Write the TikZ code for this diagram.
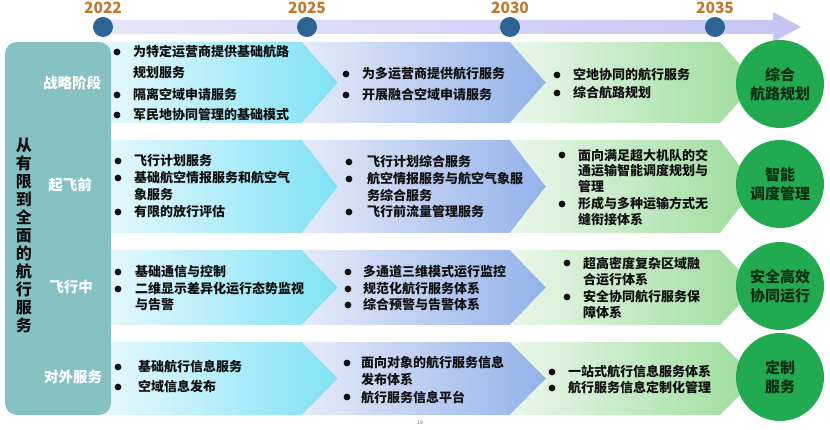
\documentclass[tikz,border=0pt]{standalone}
\usepackage{fontspec}
\setmainfont{Noto Sans CJK SC}
\definecolor{panel}{HTML}{86C2C4}
\definecolor{cyanR}{HTML}{7FE2F5}
\definecolor{cyanL}{HTML}{E6F8FC}
\definecolor{bluL}{HTML}{E6EAF8}
\definecolor{bluR}{HTML}{92B2EA}
\definecolor{grnL}{HTML}{EAF7EA}
\definecolor{grnR}{HTML}{9CDC9C}
\definecolor{goalc}{HTML}{22AA50}
\definecolor{goalt}{HTML}{0E2E16}
\definecolor{dotc}{HTML}{2C6496}
\definecolor{yearc}{HTML}{C4782C}
\definecolor{bandL}{HTML}{E6E6F8}
\definecolor{bandR}{HTML}{C4C4F4}
\definecolor{ink}{HTML}{111111}
\newcommand\Ln[4]{\node[txt] (#1) at (#2,#3) {#4};}
\newcommand\Bu[2]{\fill[ink] (#1,#2) circle (3.4);}
\newcommand\Rowsegs[2]{%
  \shade[left color=cyanL,right color=cyanR] (105,#1) -- (302,#1) -- (338,{(#1+#2)/2}) -- (302,#2) -- (105,#2) -- cycle;
  \shade[left color=bluL,right color=bluR] (302,#1) -- (510,#1) -- (546,{(#1+#2)/2}) -- (510,#2) -- (302,#2) -- (338,{(#1+#2)/2}) -- cycle;
  \shade[left color=grnL,right color=grnR] (510,#1) -- (720,#1) -- (756,{(#1+#2)/2}) -- (720,#2) -- (510,#2) -- (546,{(#1+#2)/2}) -- cycle;
}
\begin{document}
\begin{tikzpicture}[x=1pt,y=-1pt,
  txt/.style={anchor=west,inner sep=0pt,font=\fontsize{13}{15}\selectfont\bfseries,text=ink},
  goal/.style={circle,fill=goalc,minimum size=88pt,inner sep=0pt,align=center,text=goalt,
    font=\fontsize{15}{19}\selectfont\bfseries},
  rowlab/.style={inner sep=0pt,text=white,font=\fontsize{14.5}{17}\selectfont\bfseries},
  year/.style={inner sep=0pt,text=yearc,font=\fontsize{15.5}{17}\selectfont\bfseries},
  tdot/.style={circle,fill=dotc,minimum size=20pt,inner sep=0pt}]
\useasboundingbox[fill=white] (0,0) rectangle (830,430);

% timeline
\shade[left color=bandL,right color=bandR] (98,20) -- (773,20) -- (773,12) -- (801,27) -- (773,42) -- (773,34) -- (98,34) -- cycle;
\node[tdot] (d1) at (103,27) {};
\node[tdot] (d2) at (307,27) {};
\node[tdot] (d3) at (510,27) {};
\node[tdot] (d4) at (715,27) {};
\node[year] (y1) at (103,8) {2022};
\node[year] (y2) at (307,8) {2025};
\node[year] (y3) at (510,8) {2030};
\node[year] (y4) at (715,8) {2035};

% row bands
\Rowsegs{42}{123}
\Rowsegs{140}{233}
\Rowsegs{250}{325}
\Rowsegs{342}{415}

% left panel
\fill[panel,rounded corners=12pt] (5,42) rectangle (111,415);
\node[inner sep=0pt,text=ink,align=center,font=\fontsize{16}{18}\selectfont\bfseries] (main) at (24,235)
  {从\\有\\限\\到\\全\\面\\的\\航\\行\\服\\务};
\node[rowlab] (l1) at (72,83) {战略阶段};
\node[rowlab] (l2) at (70,185) {起飞前};
\node[rowlab] (l3) at (71,287) {飞行中};
\node[rowlab] (l4) at (73,377) {对外服务};

% goals
\node[goal] (g1) at (780,84) {综合\\航路规划};
\node[goal] (g2) at (780,184) {智能\\调度管理};
\node[goal] (g3) at (780,286) {安全高效\\协同运行};
\node[goal] (g4) at (780,377) {定制\\服务};

% row 1
\Bu{117}{52}\Ln{a1}{133}{52}{为特定运营商提供基础航路}
\Ln{a2}{133}{73}{规划服务}
\Bu{117}{95}\Ln{a3}{133}{95}{隔离空域申请服务}
\Bu{117}{115}\Ln{a4}{133}{115}{军民地协同管理的基础模式}
\Bu{346}{74}\Ln{b1}{362}{74}{为多运营商提供航行服务}
\Bu{346}{95}\Ln{b2}{362}{95}{开展融合空域申请服务}
\Bu{557}{75}\Ln{c1}{573}{75}{空地协同的航行服务}
\Bu{557}{93}\Ln{c2}{573}{93}{综合航路规划}

% row 2
\Bu{118}{161}\Ln{a5}{134}{161}{飞行计划服务}
\Bu{118}{178}\Ln{a6}{134}{178}{基础航空情报服务和航空气}
\Ln{a7}{134}{195}{象服务}
\Bu{118}{212}\Ln{a8}{134}{212}{有限的放行评估}
\Bu{349}{162}\Ln{b3}{367}{162}{飞行计划综合服务}
\Bu{349}{179}\Ln{b4}{367}{179}{航空情报服务与航空气象服}
\Ln{b5}{367}{196}{务综合服务}
\Bu{349}{212}\Ln{b6}{367}{212}{飞行前流量管理服务}
\Bu{562}{155}\Ln{c3}{578}{155}{面向满足超大机队的交}
\Ln{c4}{578}{171}{通运输智能调度规划与}
\Ln{c5}{578}{187}{管理}
\Bu{562}{204}\Ln{c6}{578}{204}{形成与多种运输方式无}
\Ln{c7}{578}{220}{缝衔接体系}

% row 3
\Bu{118}{272}\Ln{a9}{135}{272}{基础通信与控制}
\Bu{118}{289}\Ln{a10}{135}{289}{二维显示差异化运行态势监视}
\Ln{a11}{135}{305}{与告警}
\Bu{348}{272}\Ln{b7}{363}{272}{多通道三维模式运行监控}
\Bu{348}{289}\Ln{b8}{363}{289}{规范化航行服务体系}
\Bu{348}{305}\Ln{b9}{363}{305}{综合预警与告警体系}
\Bu{567}{263}\Ln{c8}{583}{263}{超高密度复杂区域融}
\Ln{c9}{583}{280}{合运行体系}
\Bu{567}{297}\Ln{c10}{583}{297}{安全协同航行服务保}
\Ln{c11}{583}{313}{障体系}

% row 4
\Bu{118}{367}\Ln{a12}{138}{367}{基础航行信息服务}
\Bu{118}{387}\Ln{a13}{138}{387}{空域信息发布}
\Bu{347}{363}\Ln{b10}{361}{363}{面向对象的航行服务信息}
\Ln{b11}{361}{380}{发布体系}
\Bu{347}{397}\Ln{b12}{361}{397}{航行服务信息平台}
\Bu{552}{372}\Ln{c12}{568}{372}{一站式航行信息服务体系}
\Bu{552}{388}\Ln{c13}{568}{388}{航行服务信息定制化管理}

\node[inner sep=0pt,text=black!60,font=\fontsize{5}{6}\selectfont] (pg) at (420,423) {19};
\end{tikzpicture}
\end{document}
